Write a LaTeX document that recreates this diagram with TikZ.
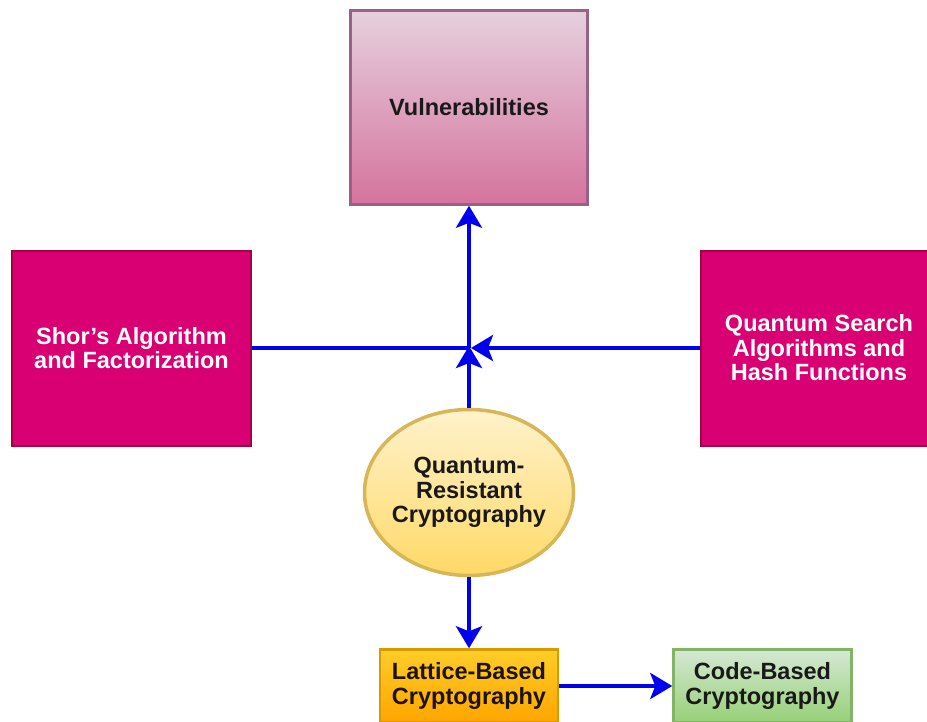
\documentclass[tikz,border=0pt]{standalone}
\usepackage{fontspec}
\setmainfont{Liberation Sans}
\usetikzlibrary{arrows.meta,shapes.geometric}

\begin{document}
\begin{tikzpicture}[x=1pt,y=-1pt,
    box/.style={rectangle,draw,line width=2.5pt,align=center,inner sep=4pt,
        font=\fontsize{23.5}{24.5}\selectfont\bfseries},
    link/.style={line width=4pt,color=arrowblue},
    tip/.style={-{Stealth[length=22pt,width=26pt,inset=5pt]}}]

    % Colors
    \definecolor{vulntop}{HTML}{E6D0DE} % light mauve
    \definecolor{vulnbot}{HTML}{D5739D} % pink
    \definecolor{vulnedge}{HTML}{996185}
    \definecolor{attack}{HTML}{D80073} % magenta
    \definecolor{attackedge}{HTML}{A50040}
    \definecolor{qrctop}{HTML}{FFF2CC} % pale yellow
    \definecolor{qrcbot}{HTML}{FFD966}
    \definecolor{qrcedge}{HTML}{D6B656}
    \definecolor{lattop}{HTML}{FFCD28} % orange
    \definecolor{latbot}{HTML}{FFA500}
    \definecolor{latedge}{HTML}{D79B00}
    \definecolor{codetop}{HTML}{D5E8D4} % light green
    \definecolor{codebot}{HTML}{97D077}
    \definecolor{codeedge}{HTML}{82B366}
    \definecolor{arrowblue}{RGB}{0,0,238}

    % Page size (right box runs off the edge)
    \clip (0,0) rectangle (927,721);

    % Top box
    \node[box,draw=vulnedge,top color=vulntop,bottom color=vulnbot,
        minimum width=237pt,minimum height=194pt,text=black!90]
        (vuln) at (469,107.5) {Vulnerabilities};

    % Attack boxes
    \node[box,draw=attackedge,fill=attack,line width=2pt,text=white,
        minimum width=239pt,minimum height=195pt]
        (shor) at (131.5,348) {Shor's Algorithm\\and Factorization};
    \node[box,draw=attackedge,fill=attack,line width=2pt,text=white,
        minimum width=237pt,minimum height=195pt]
        (search) at (819,348) {Quantum Search\\Algorithms and\\Hash Functions};

    % Centre ellipse
    \node[ellipse,draw=qrcedge,line width=3.5pt,top color=qrctop,bottom color=qrcbot,
        minimum width=209pt,minimum height=166pt,align=center,inner sep=-8pt,
        font=\fontsize{23.5}{24.5}\selectfont\bfseries,text=black!90]
        (qrc) at (469,492.5) {Quantum-\\Resistant\\Cryptography};

    % Bottom boxes
    \node[box,draw=latedge,top color=lattop,bottom color=latbot,
        minimum width=178pt,minimum height=73pt,text=black!85!brown]
        (lattice) at (469,686) {Lattice-Based\\Cryptography};
    \node[box,draw=codeedge,top color=codetop,bottom color=codebot,
        minimum width=178pt,minimum height=73pt,text=black!90]
        (code) at (762.5,686) {Code-Based\\Cryptography};

    % Where the lines meet
    \coordinate (junc) at (469,348);

    % Connectors
    \draw[link] (shor.east) -- (junc);
    \draw[link,tip] (search.west) -- ([xshift=2pt]junc);
    \draw[link,tip] (qrc.north) -- ([yshift=2pt]junc);
    \draw[link,tip] (junc) -- (vuln.south);
    \draw[link,tip] (qrc.south) -- (lattice.north);
    \draw[link,tip] (lattice.east) -- (code.west);

\end{tikzpicture}
\end{document}
